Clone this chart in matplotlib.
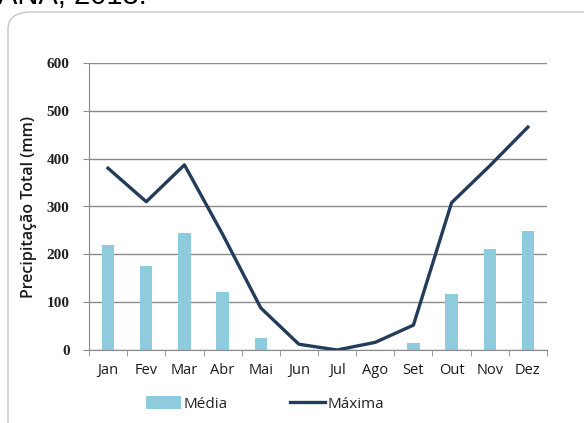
import numpy as np
import matplotlib
matplotlib.use("Agg")
import matplotlib.pyplot as plt
from matplotlib.patches import FancyBboxPatch, Patch
from matplotlib.lines import Line2D

# ----- dados -----
meses = ["Jan", "Fev", "Mar", "Abr", "Mai", "Jun", "Jul", "Ago", "Set", "Out", "Nov", "Dez"]
media = [219, 176, 244, 121, 26, 0, 0, 0, 15, 118, 211, 248]
maxima = [380, 310, 387, 242, 88, 12, 0, 16, 52, 308, 385, 466]
yticks = [0, 100, 200, 300, 400, 500, 600]

W, H = 584, 423
fig = plt.figure(figsize=(W / 100, H / 100), dpi=100)

# moldura arredondada (cortada na direita e embaixo)
frame = FancyBboxPatch((8 / W, -40 / H), 640 / W, (H - 12 + 40) / H,
                       boxstyle="round,pad=0,rounding_size=0.04",
                       transform=fig.transFigure, facecolor="white",
                       edgecolor="#c4c4c4", linewidth=1.0, zorder=-5)
fig.patches.append(frame)

# titulo cortado no topo
fig.text(-2 / W, 1 - 4 / H, "ANA, 2013.", fontsize=21, family="Liberation Sans",
         ha="left", va="baseline", color="black")

ax = fig.add_axes([89 / W, 1 - 350 / H, (547 - 89) / W, (350 - 63) / H])
ax.set_facecolor("none")

x = np.arange(len(meses))
ax.bar(x, media, width=0.32, color="#8ecbdc", zorder=2)
ax.plot(x, maxima, color="#233c5a", linewidth=2.4, zorder=3)

ax.set_xlim(-0.5, len(meses) - 0.5)
ax.set_ylim(0, 600)
ax.set_yticks(yticks)
ax.set_yticklabels([str(v) for v in yticks], fontsize=11, family="Liberation Serif",
                   fontweight="bold", color="#222222")
ax.yaxis.grid(True, color="#8a8a8a", linewidth=1.0, zorder=0)
ax.set_axisbelow(True)

ax.set_xticks(x)
ax.set_xticklabels(meses, fontsize=10.5, family="Open Sans", color="#1a1a1a")
ax.set_xticks(np.arange(-0.5, len(meses)), minor=True)
ax.tick_params(axis="x", which="major", length=0, pad=9)
ax.tick_params(axis="x", which="minor", length=4, color="#8a8a8a", direction="out")
ax.tick_params(axis="y", length=4, color="#8a8a8a", pad=10)

for s in ["top", "right"]:
    ax.spines[s].set_visible(False)
ax.spines["left"].set_color("#8a8a8a")
ax.spines["bottom"].set_color("#8a8a8a")

ax.set_ylabel("Precipitação Total (mm)", fontsize=11.5, family="Open Sans",
              fontweight="semibold", labelpad=7, color="#1a1a1a")

handles = [Patch(facecolor="#8ecbdc", edgecolor="none"),
           Line2D([0], [0], color="#233c5a", linewidth=2.4)]
fig.legend(handles, ["Média", "Máxima"], loc="center", bbox_to_anchor=(265 / W, 1 - 404 / H),
           ncol=2, frameon=False, prop={"family": "Open Sans", "size": 11},
           handlelength=2.3, handleheight=0.9, handletextpad=0.15, columnspacing=4.1,
           labelcolor="#222222")

fig.savefig("out.png", dpi=100)
